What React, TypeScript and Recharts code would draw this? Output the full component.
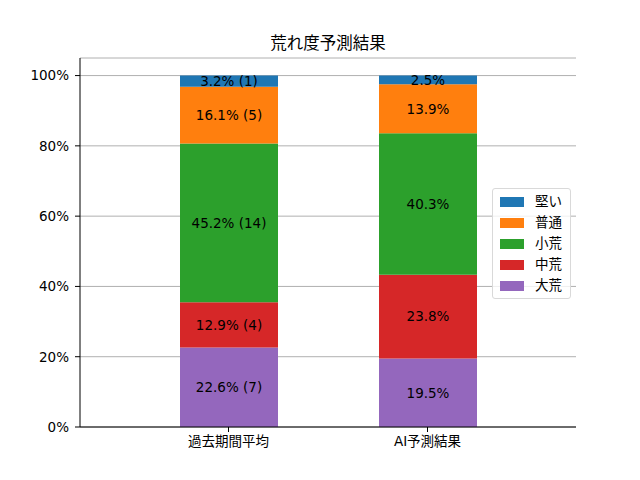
import React from 'react';
import { BarChart, Bar, XAxis, YAxis, CartesianGrid, LabelList, Legend } from 'recharts';

const FONT = '"DejaVu Sans", "Noto Sans CJK JP", sans-serif';

const title = '荒れ度予測結果';
const categories = ['過去期間平均', 'AI予測結果'];
// stacked bottom -> top
const seriesKeys = ['大荒', '中荒', '小荒', '普通', '堅い'];
const seriesColors = ['#9467bd', '#d62728', '#2ca02c', '#ff7f0e', '#1f77b4'];
const pastValues = [22.6, 12.9, 45.2, 16.1, 3.2];
const pastCounts = [7, 4, 14, 5, 1];
const aiValues = [19.5, 23.8, 40.3, 13.9, 2.5];
const yTicks = [0, 20, 40, 60, 80, 100];

const valueRows = [pastValues, aiValues];
const countRows: (number[] | null)[] = [pastCounts, null];

const data = categories.map((name, ci) => {
  const row: Record<string, any> = { name };
  seriesKeys.forEach((k, si) => {
    const v = valueRows[ci][si];
    row[k] = v;
    const c = countRows[ci];
    row[k + '_label'] = c ? `${v.toFixed(1)}% (${c[si]})` : `${v.toFixed(1)}%`;
  });
  return row;
});

const legendOrder = [...seriesKeys].map((k, i) => ({ k, c: seriesColors[i] })).reverse();

const LegendBox = () => (
  <div
    style={{
      border: '1px solid #d9d9d9',
      borderRadius: 3,
      background: 'rgba(255,255,255,0.8)',
      padding: '2px 8px 2px 7px',
      fontFamily: FONT,
      fontSize: 13.5,
      color: '#000',
      lineHeight: '21px',
      width: 62,
    }}
  >
    {legendOrder.map((e) => (
      <div key={e.k} style={{ display: 'flex', alignItems: 'center', whiteSpace: 'nowrap', height: 21 }}>
        <span style={{ display: 'inline-block', width: 28, height: 10, background: e.c, marginRight: 11 }} />
        <span>{e.k}</span>
      </div>
    ))}
  </div>
);

export default function App() {
  return (
    <div style={{ position: 'absolute', left: 0, top: 0, width: 640, height: 480, background: '#fff' }}>
      <div
        style={{
          position: 'absolute',
          left: 80,
          width: 496,
          top: 33,
          textAlign: 'center',
          fontFamily: FONT,
          fontSize: 16.5,
          lineHeight: '22px',
          color: '#000',
        }}
      >
        {title}
      </div>
      <BarChart
        width={640}
        height={480}
        data={data}
        margin={{ top: 58, right: 64, bottom: 0, left: 0 }}
        barCategoryGap={0}
        style={{ fontFamily: FONT }}
      >
        <CartesianGrid vertical={false} stroke="#b0b0b0" strokeWidth={1} />
        <XAxis
          dataKey="name"
          type="category"
          height={53}
          padding={{ left: 49, right: 49 }}
          tickSize={5}
          tickMargin={4}
          axisLine={{ stroke: '#000', strokeWidth: 1 }}
          tickLine={{ stroke: '#000' }}
          tick={{ fill: '#000', fontSize: 13.5, fontFamily: FONT }}
        />
        <XAxis
          xAxisId="top"
          dataKey="name"
          orientation="top"
          height={0}
          tick={false}
          tickLine={false}
          axisLine={{ stroke: '#000', strokeWidth: 1 }}
        />
        <YAxis
          type="number"
          domain={[0, 105]}
          ticks={yTicks}
          width={80}
          tickSize={5}
          tickMargin={6}
          tickFormatter={(v: number) => `${v}%`}
          axisLine={{ stroke: '#000', strokeWidth: 1 }}
          tickLine={{ stroke: '#000' }}
          tick={{ fill: '#000', fontSize: 13.5, fontFamily: FONT }}
        />
        <YAxis
          yAxisId="right"
          orientation="right"
          type="number"
          domain={[0, 105]}
          width={0}
          tick={false}
          tickLine={false}
          axisLine={{ stroke: '#000', strokeWidth: 1 }}
        />
        <Legend
          layout="horizontal"
          verticalAlign="middle"
          align="center"
          content={() => <LegendBox />}
          wrapperStyle={{ position: 'absolute', left: 492, top: 188, width: 'auto', height: 'auto' }}
        />
        {seriesKeys.map((k, i) => (
          <Bar key={k} dataKey={k} stackId="a" fill={seriesColors[i]} barSize={98} isAnimationActive={false}>
            <LabelList
              dataKey={k + '_label'}
              position="center"
              fill="#000"
              fontSize={13.5}
              fontFamily={FONT}
            />
          </Bar>
        ))}
      </BarChart>
    </div>
  );
}
